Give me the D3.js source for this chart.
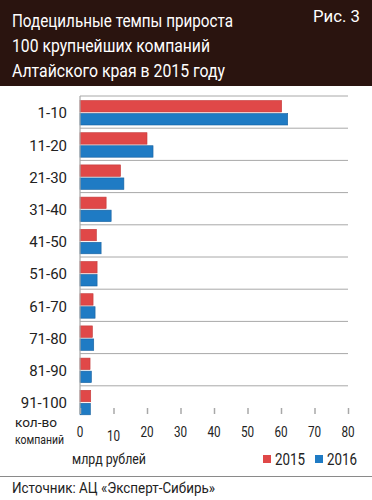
<!DOCTYPE html>
<html>
<head>
<meta charset="utf-8">
<script src="https://cdn.jsdelivr.net/npm/d3@7"></script>
<style>
  body { margin: 0; background: #fff; }
  svg text { font-family: "Roboto", "Liberation Sans", sans-serif; }
</style>
</head>
<body>
<div id="chart"></div>
<script>
// Data
let titleLines = ['Подецильные темпы прироста', '100 крупнейших компаний', 'Алтайского края в 2015 году'];
let categories = ['1-10', '11-20', '21-30', '31-40', '41-50', '51-60', '61-70', '71-80', '81-90', '91-100'];
let seriesNames = ['2015', '2016'];
let values2015 = [60.2, 20, 12.1, 7.8, 4.9, 5.1, 3.9, 3.7, 3.0, 3.2];
let values2016 = [62, 21.8, 13.1, 9.3, 6.3, 5.1, 4.5, 4.1, 3.4, 3.1];
let xTicks = [0, 10, 20, 30, 40, 50, 60, 70, 80];

let colors = { '2015': '#e04848', '2016': '#1f7bc4' };
let strokes = { '2015': '#c43a3a', '2016': '#17609e' };

let dim = { width: 372, height: 500 };

// the reference uses a condensed face: squeeze text horizontally
function squeeze(sel, k) {
    sel.each(function () {
        const w = this.getComputedTextLength();
        d3.select(this).attr('textLength', w * k).attr('lengthAdjust', 'spacingAndGlyphs');
    });
}
function fit(sel, w) {
    sel.attr('textLength', w).attr('lengthAdjust', 'spacingAndGlyphs');
}

let svg = d3.select('#chart').append('svg')
    .attr('width', dim.width)
    .attr('height', dim.height);

// Header
svg.append('rect')
    .attr('x', 0).attr('y', 0)
    .attr('width', dim.width).attr('height', 86)
    .attr('fill', '#2a140f');

let titleWidths = [221, 198, 213];
svg.selectAll('.title')
    .data(titleLines)
    .join('text')
    .attr('class', 'title')
    .attr('x', 12)
    .attr('y', (d, i) => 27 + i * 25)
    .attr('fill', '#fff')
    .attr('font-size', 18)
    .text(d => d)
    .attr('textLength', (d, i) => titleWidths[i])
    .attr('lengthAdjust', 'spacingAndGlyphs');

svg.append('text')
    .attr('x', 313).attr('y', 22)
    .attr('fill', '#fff')
    .attr('font-size', 17)
    .text('Рис. 3')
    .call(fit, 47);

// Scales
let x = d3.scaleLinear().domain([0, 80]).range([80, 348]);
let y = d3.scaleBand().domain(categories).range([96, 418]);
let ySub = d3.scaleBand().domain(seriesNames).range([4.5, 29]).paddingInner(0.12);

// Grid lines at top of each band
svg.selectAll('.grid')
    .data(categories)
    .join('line')
    .attr('class', 'grid')
    .attr('x1', x(0)).attr('x2', x(80))
    .attr('y1', d => y(d)).attr('y2', d => y(d))
    .attr('stroke', '#a8a8a8')
    .attr('stroke-width', 1);

// Bars
let rows = categories.map((c, i) => ({ cat: c, vals: [values2015[i], values2016[i]] }));

svg.selectAll('.row')
    .data(rows)
    .join('g')
    .attr('class', 'row')
    .attr('transform', d => `translate(0,${y(d.cat)})`)
    .selectAll('rect')
    .data(d => d.vals.map((v, j) => ({ key: seriesNames[j], v })))
    .join('rect')
    .attr('x', x(0))
    .attr('y', d => ySub(d.key))
    .attr('width', d => x(d.v) - x(0))
    .attr('height', ySub.bandwidth())
    .attr('fill', d => colors[d.key])
    .attr('stroke', d => strokes[d.key])
    .attr('stroke-width', 0.6);

// Left axis line
svg.append('line')
    .attr('x1', x(0)).attr('x2', x(0))
    .attr('y1', 96).attr('y2', 414)
    .attr('stroke', '#a8a8a8')
    .attr('stroke-width', 1.2);

// Category labels
svg.selectAll('.cat')
    .data(categories)
    .join('text')
    .attr('class', 'cat')
    .attr('x', 67)
    .attr('y', d => y(d) + y.bandwidth() / 2 + 1)
    .attr('dy', '0.35em')
    .attr('text-anchor', 'end')
    .attr('font-size', 15)
    .attr('fill', '#222')
    .text(d => d)
    .call(squeeze, 1.0);

// X axis
let xAxis = svg.append('g')
    .attr('transform', 'translate(0,414)')
    .call(d3.axisTop(x).tickValues(xTicks).tickSize(6).tickFormat(''));
xAxis.select('.domain').remove();
xAxis.selectAll('.tick line').attr('stroke', '#a8a8a8').attr('stroke-width', 1.5);

svg.selectAll('.xlab')
    .data(xTicks)
    .join('text')
    .attr('class', 'xlab')
    .attr('x', d => x(d))
    .attr('y', d => d === 10 ? 436 : 432)
    .attr('dy', '0.35em')
    .attr('text-anchor', 'middle')
    .attr('font-size', 15)
    .attr('fill', '#222')
    .text(d => d)
    .call(squeeze, 0.78);

// Y axis caption
svg.append('text')
    .attr('x', 15).attr('y', 427)
    .attr('font-size', 12.5).attr('fill', '#222')
    .text('кол-во')
    .call(fit, 42);
svg.append('text')
    .attr('x', 15).attr('y', 444)
    .attr('font-size', 12.5).attr('fill', '#222')
    .text('компаний')
    .call(fit, 49);

// Unit label
svg.append('text')
    .attr('x', 72).attr('y', 464)
    .attr('font-size', 14).attr('fill', '#222')
    .text('млрд рублей')
    .call(fit, 74);

// Legend
let legendX = [263, 315];
let legend = svg.selectAll('.legend')
    .data(seriesNames)
    .join('g')
    .attr('class', 'legend')
    .attr('transform', (d, i) => `translate(${legendX[i]},459)`);
legend.append('rect')
    .attr('x', 0).attr('y', -4)
    .attr('width', 8).attr('height', 8)
    .attr('fill', d => colors[d]);
legend.append('text')
    .attr('x', 12).attr('y', 0)
    .attr('dy', '0.36em')
    .attr('font-size', 16).attr('fill', '#222')
    .text(d => d)
    .call(fit, 30);

// Footer
svg.append('line')
    .attr('x1', 0).attr('x2', dim.width)
    .attr('y1', 476.5).attr('y2', 476.5)
    .attr('stroke', '#8a8a8a')
    .attr('stroke-width', 1);

svg.append('text')
    .attr('x', 12).attr('y', 488)
    .attr('dy', '0.36em')
    .attr('font-size', 15).attr('fill', '#222')
    .text('Источник: АЦ «Эксперт-Сибирь»')
    .call(fit, 203);
</script>
</body>
</html>
